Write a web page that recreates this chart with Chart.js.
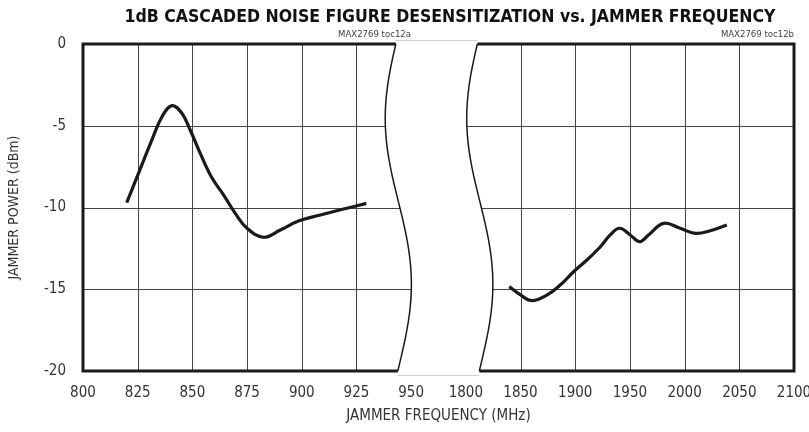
<!DOCTYPE html>
<html>
<head>
<meta charset="utf-8">
<script src="https://cdn.jsdelivr.net/npm/chart.js@4/dist/chart.umd.min.js"></script>
<style>
  html, body { margin: 0; padding: 0; background: #fff; }
  #wrap { width: 809px; height: 432px; }
</style>
</head>
<body>
<div id="wrap"><canvas id="chart"></canvas></div>
<script>
// tick labels (one per 25 MHz step on the lower axis, broken after 950)
const tickLabels = ['800', '825', '850', '875', '900', '925', '950',
  '1800', '1850', '1900', '1950', '2000', '2050', '2100'];
const yTicks = [0, -5, -10, -15, -20];

// 800-950 MHz band
const lowFreq = [820, 825.4, 831.5, 836.1, 840.7, 845.2, 849, 853.6, 859, 864.3, 869.6, 875, 882.5, 890.2, 898.5, 908.5, 919.1, 929.5];
const lowPower = [-9.7, -7.9, -5.87, -4.45, -3.77, -4.24, -5.26, -6.69, -8.2, -9.24, -10.36, -11.27, -11.82, -11.38, -10.83, -10.46, -10.09, -9.75];

// 1800-2100 MHz band
const highFreq = [1839.7, 1850, 1860.6, 1874.4, 1886.3, 1898.5, 1910.7, 1923, 1932, 1940.5, 1950.3, 1958.8, 1967, 1980.7, 1996, 2009.7, 2023.4, 2038.6];
const highPower = [-14.84, -15.35, -15.7, -15.35, -14.74, -13.93, -13.21, -12.4, -11.68, -11.27, -11.68, -12.09, -11.68, -10.97, -11.27, -11.58, -11.42, -11.07];

const FONT = '"Liberation Sans Narrow", "DejaVu Sans Condensed", sans-serif';

// wavy break edge, sampled as a sine wave down the plot height
function curvePoints(x0, top, bottom) {
  const pts = [];
  for (let i = 0; i <= 40; i++) {
    const t = i / 40;
    const d = -12.5 * Math.sin(2 * Math.PI * t) + 1.5 * (1 - Math.cos(2 * Math.PI * t)) + 2 * t;
    pts.push({ x: x0 + d, y: top + (bottom - top) * t });
  }
  return pts;
}

function traceCurve(ctx, pts, reverse) {
  const p = reverse ? pts.slice().reverse() : pts;
  p.forEach(pt => ctx.lineTo(pt.x, pt.y));
}

const brokenFrame = {
  id: 'brokenFrame',
  beforeDatasetsDraw(chart) {
    const { ctx, chartArea: a, scales } = chart;
    const x = scales.x, x2 = scales.x2, y = scales.y;
    const leftEdge = curvePoints(x.getPixelForValue(943), a.top, a.bottom);
    const rightEdge = curvePoints(x2.getPixelForValue(1810.5), a.top, a.bottom);
    const last = leftEdge.length - 1;

    const leftPanel = () => {
      ctx.beginPath();
      ctx.moveTo(a.left, a.bottom);
      ctx.lineTo(a.left, a.top);
      traceCurve(ctx, leftEdge, false);
      ctx.closePath();
    };
    const rightPanel = () => {
      ctx.beginPath();
      ctx.moveTo(a.right, a.top);
      ctx.lineTo(a.right, a.bottom);
      traceCurve(ctx, rightEdge, true);
      ctx.closePath();
    };

    ctx.save();
    // grid lines
    ctx.strokeStyle = '#444';
    ctx.lineWidth = 1;
    [[leftPanel, x, [825, 850, 875, 900, 925]], [rightPanel, x2, [1850, 1900, 1950, 2000, 2050]]].forEach(([panel, sc, vals]) => {
      ctx.save();
      panel();
      ctx.clip();
      ctx.beginPath();
      vals.forEach(v => {
        const px = Math.round(sc.getPixelForValue(v)) + 0.5;
        ctx.moveTo(px, a.top);
        ctx.lineTo(px, a.bottom);
      });
      yTicks.slice(1, -1).forEach(v => {
        const py = Math.round(y.getPixelForValue(v)) + 0.5;
        ctx.moveTo(a.left, py);
        ctx.lineTo(a.right, py);
      });
      ctx.stroke();
      ctx.restore();
    });

    // faint lines across the gap
    ctx.strokeStyle = '#d0d0d0';
    ctx.beginPath();
    ctx.moveTo(leftEdge[0].x, a.top - 3.5);
    ctx.lineTo(rightEdge[0].x, a.top - 3.5);
    ctx.moveTo(leftEdge[last].x, a.bottom + 4.5);
    ctx.lineTo(rightEdge[last].x, a.bottom + 4.5);
    ctx.stroke();

    // thick outer frame
    ctx.strokeStyle = '#1a1a1a';
    ctx.lineWidth = 3;
    ctx.beginPath();
    ctx.moveTo(leftEdge[last].x, a.bottom);
    ctx.lineTo(a.left, a.bottom);
    ctx.lineTo(a.left, a.top);
    ctx.lineTo(leftEdge[0].x, a.top);
    ctx.moveTo(rightEdge[0].x, a.top);
    ctx.lineTo(a.right, a.top);
    ctx.lineTo(a.right, a.bottom);
    ctx.lineTo(rightEdge[last].x, a.bottom);
    ctx.stroke();

    // thin break edges
    ctx.lineWidth = 1.5;
    [leftEdge, rightEdge].forEach(pts => {
      ctx.beginPath();
      ctx.moveTo(pts[0].x, pts[0].y);
      traceCurve(ctx, pts, false);
      ctx.stroke();
    });

    // title and part numbers
    ctx.fillStyle = '#111';
    ctx.font = 'bold 17.5px ' + FONT;
    ctx.textAlign = 'center';
    ctx.textBaseline = 'middle';
    ctx.fillText('1dB CASCADED NOISE FIGURE DESENSITIZATION vs. JAMMER FREQUENCY', 450, 17);

    ctx.fillStyle = '#444';
    ctx.font = '9.5px ' + FONT;
    ctx.textAlign = 'right';
    ctx.fillText('MAX2769 toc12a', 411, 35);
    ctx.fillText('MAX2769 toc12b', a.right, 35);
    ctx.restore();
  }
};

const ctx = document.getElementById('chart').getContext('2d');
new Chart(ctx, {
  type: 'line',
  data: {
    datasets: [
      {
        data: lowFreq.map((f, i) => ({ x: f, y: lowPower[i] })),
        xAxisID: 'x'
      },
      {
        data: highFreq.map((f, i) => ({ x: f, y: highPower[i] })),
        xAxisID: 'x2'
      }
    ]
  },
  options: {
    responsive: true,
    maintainAspectRatio: false,
    animation: false,
    layout: { padding: { left: 0, right: 15, top: 44, bottom: 0 } },
    elements: {
      line: { borderColor: '#1a1a1a', borderWidth: 3.2, tension: 0.4, fill: false },
      point: { radius: 0 }
    },
    plugins: {
      legend: { display: false },
      tooltip: { enabled: false },
      title: { display: false }
    },
    scales: {
      x: {
        type: 'linear',
        min: 800,
        max: 1125,
        afterBuildTicks: s => { s.ticks = tickLabels.map((t, i) => ({ value: 800 + i * 25 })); },
        ticks: {
          autoSkip: false,
          maxRotation: 0,
          padding: 13,
          color: '#333',
          font: { family: FONT, size: 15 },
          callback: (v, i) => tickLabels[i]
        },
        grid: { display: false, drawTicks: false },
        border: { display: false },
        title: {
          display: true,
          text: 'JAMMER FREQUENCY (MHz)',
          color: '#333',
          font: { family: FONT, size: 15 },
          padding: { top: 4, bottom: 7 }
        },
        afterFit: s => { s.height = 61; s.paddingLeft = 0; s.paddingRight = 0; }
      },
      x2: {
        type: 'linear',
        display: false,
        min: 1450,
        max: 2100
      },
      y: {
        min: -20,
        max: 0,
        ticks: {
          stepSize: 5,
          padding: 17,
          color: '#333',
          font: { family: FONT, size: 15 }
        },
        grid: { display: false, drawTicks: false },
        border: { display: false },
        title: {
          display: true,
          text: 'JAMMER POWER (dBm)',
          color: '#333',
          font: { family: FONT, size: 14 },
          padding: { top: 6, bottom: 0 }
        },
        afterFit: s => { s.width = 83; s.paddingTop = 0; s.paddingBottom = 0; }
      }
    }
  },
  plugins: [brokenFrame]
});
</script>
</body>
</html>
